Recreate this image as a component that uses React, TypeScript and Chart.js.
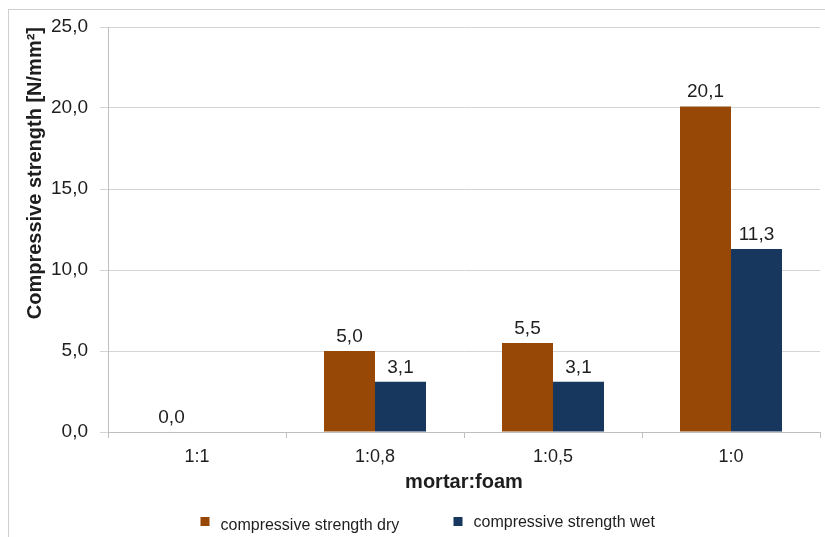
import React, { useEffect, useRef } from "react";
import { Chart, registerables } from "chart.js";

Chart.register(...registerables);

const categories = ["1:1", "1:0,8", "1:0,5", "1:0"];
const dryValues: (number | null)[] = [0.0, 5.0, 5.5, 20.1];
const wetValues: (number | null)[] = [null, 3.1, 3.1, 11.3];
const seriesLabels = ["compressive strength dry", "compressive strength wet"];
const seriesColors = ["#974706", "#17375E"];
const yTicks = [0, 5, 10, 15, 20, 25];
const yTitle = "Compressive strength [N/mm²]";
const xTitle = "mortar:foam";

const FONT = "'Liberation Sans', Arial, sans-serif";
const TEXT = "#1e1e1e";

const fmt = (v: number) => v.toFixed(1).replace(".", ",");

const dataLabelPlugin = {
  id: "dataLabels",
  afterDatasetsDraw(chart: any) {
    const ctx = chart.ctx;
    ctx.save();
    ctx.font = `19px ${FONT}`;
    ctx.fillStyle = TEXT;
    ctx.textAlign = "center";
    ctx.textBaseline = "alphabetic";
    chart.data.datasets.forEach((ds: any, di: number) => {
      const meta = chart.getDatasetMeta(di);
      meta.data.forEach((el: any, i: number) => {
        const v = ds.data[i];
        if (v === null || v === undefined) return;
        ctx.fillText(fmt(v), el.x, el.y - 9);
      });
    });
    ctx.restore();
  },
};

const legendPlugin = {
  id: "customLegend",
  afterDraw(chart: any) {
    const ctx = chart.ctx;
    const cx = chart.width / 2;
    const starts = [cx - 212, cx + 41];
    ctx.save();
    ctx.font = `16px ${FONT}`;
    ctx.textAlign = "left";
    ctx.textBaseline = "middle";
    chart.data.datasets.forEach((ds: any, i: number) => {
      const x = starts[i];
      ctx.fillStyle = ds.backgroundColor;
      ctx.fillRect(x, 517, 9, 9);
      ctx.fillStyle = TEXT;
      ctx.fillText(ds.label, x + 20, i === 0 ? 526 : 523);
    });
    ctx.restore();
  },
};

export default function App() {
  const canvasRef = useRef<HTMLCanvasElement | null>(null);

  useEffect(() => {
    if (!canvasRef.current) return;
    const chart = new Chart(canvasRef.current, {
      type: "bar",
      data: {
        labels: categories,
        datasets: [
          {
            label: seriesLabels[0],
            data: dryValues,
            backgroundColor: seriesColors[0],
            categoryPercentage: 0.573,
            barPercentage: 1,
          },
          {
            label: seriesLabels[1],
            data: wetValues,
            backgroundColor: seriesColors[1],
            categoryPercentage: 0.573,
            barPercentage: 1,
          },
        ],
      },
      options: {
        animation: false,
        responsive: false,
        layout: { padding: { left: 0, top: 27, right: 5, bottom: 42 } },
        plugins: {
          legend: { display: false },
          tooltip: { enabled: false },
        },
        scales: {
          x: {
            grid: {
              display: true,
              drawOnChartArea: false,
              offset: true,
              tickLength: 6,
              color: "#bfbfbf",
            },
            border: { display: true, color: "#bfbfbf" },
            ticks: {
              font: { family: FONT, size: 18 },
              color: TEXT,
              padding: 8,
            },
            title: {
              display: true,
              text: xTitle,
              font: { family: FONT, size: 20, weight: "bold" },
              color: TEXT,
              padding: { top: 0, bottom: 1 },
            },
            afterFit: (scale: any) => {
              scale.height = 63;
            },
          },
          y: {
            min: 0,
            max: 25,
            afterBuildTicks: (scale: any) => {
              scale.ticks = yTicks.map((v) => ({ value: v }));
            },
            grid: {
              color: "#d4d4d4",
              tickLength: 8,
            },
            border: { display: true, color: "#bfbfbf" },
            ticks: {
              font: { family: FONT, size: 19 },
              color: TEXT,
              padding: 12,
              callback: (v: any) => fmt(Number(v)),
            },
            title: {
              display: true,
              text: yTitle,
              align: "end",
              font: { family: FONT, size: 20, weight: "bold" },
              color: TEXT,
              padding: { top: 23, bottom: 0 },
            },
            afterFit: (scale: any) => {
              scale.width = 108;
            },
          },
        },
      },
      plugins: [dataLabelPlugin, legendPlugin],
    });
    return () => chart.destroy();
  }, []);

  return (
    <div
      style={{
        position: "absolute",
        left: 0,
        top: 0,
        width: 825,
        height: 537,
        background: "#ffffff",
        overflow: "hidden",
      }}
    >
      <div
        style={{
          position: "absolute",
          left: 8,
          top: 9,
          width: 830,
          height: 540,
          borderLeft: "1px solid #cfcfcf",
          borderTop: "1px solid #cfcfcf",
        }}
      />
      <canvas
        ref={canvasRef}
        width={825}
        height={537}
        style={{ position: "absolute", left: 0, top: 0, width: 825, height: 537 }}
      />
    </div>
  );
}
